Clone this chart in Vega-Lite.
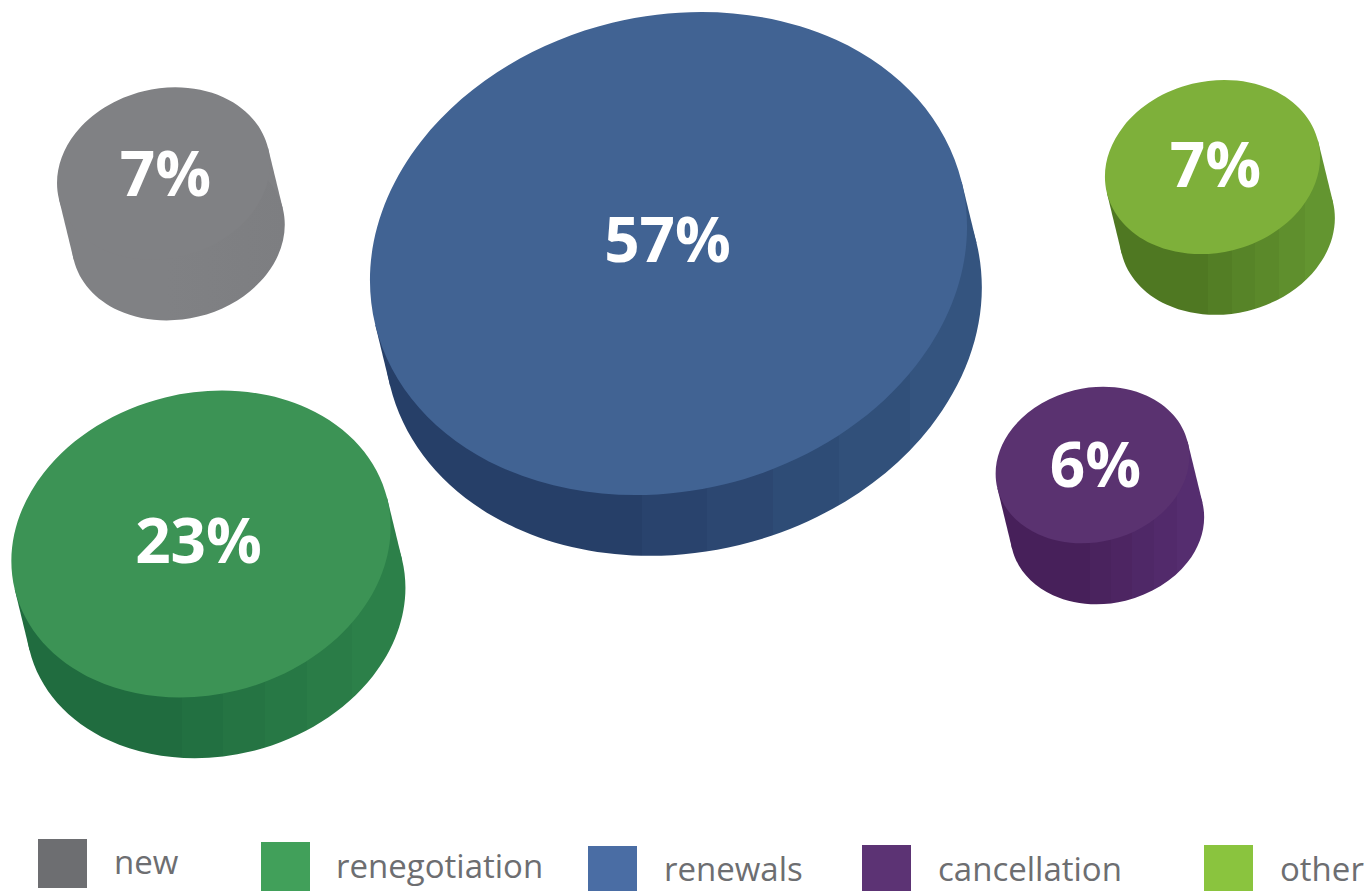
{"$schema":"https://vega.github.io/schema/vega-lite/v6.json","width":1364,"height":891,"autosize":{"type":"none"},"padding":0,"background":"white","view":{"stroke":null},"config":{"axis":{"disable":true}},
"data":{"values":[
{"category":"new","share":0.0725,"cx":163.5,"cy":173.5,"swatchX":62.5,"swatchY":863.5,"labelX":114,"labelY":874},
{"category":"renegotiation","share":0.23,"cx":201,"cy":544,"swatchX":285.5,"swatchY":866.5,"labelX":336,"labelY":878},
{"category":"renewals","share":0.57,"cx":668.5,"cy":253.5,"swatchX":612.5,"swatchY":870.5,"labelX":664,"labelY":881},
{"category":"cancellation","share":0.06,"cx":1092.5,"cy":465,"swatchX":886.5,"swatchY":869.5,"labelX":938,"labelY":881},
{"category":"other","share":0.074,"cx":1212.5,"cy":167,"swatchX":1228.5,"swatchY":869.5,"labelX":1280,"labelY":881}
]},
"encoding":{
"x":{"field":"cx","type":"quantitative","scale":{"domain":[0,1364],"nice":false,"zero":false},"axis":null},
"y":{"field":"cy","type":"quantitative","scale":{"domain":[891,0],"nice":false,"zero":false},"axis":null},
"size":{"field":"share","type":"quantitative","scale":{"type":"linear","domain":[0,0.57],"range":[0,364272]},"legend":null}
},
"layer":[
{"transform":[{"filter":"datum.category==='new'"}],"mark":{"type":"point","filled":true,"opacity":1,"stroke":null,"clip":false,"shape":"M.9716 -.2368 L1.1086 .3262 L-.8346 .7998 L-.9716 .2368 Z","fill":"#808184"}},
{"transform":[{"filter":"datum.category==='new'"}],"mark":{"type":"point","filled":true,"opacity":1,"stroke":null,"clip":false,"xOffset":14.8,"yOffset":60.8,"shape":"M.9716 -.2368 C1.021 -.0341 .9661 .1854 .8188 .3732 C.6716 .561 .4441 .7018 .1864 .7646 C-.0713 .8274 -.338 .8071 -.5552 .7081 C-.7724 .6091 -.9221 .4396 -.9716 .2368 C-1.021 .0341 -.9661 -.1854 -.8188 -.3732 C-.6716 -.561 -.4441 -.7018 -.1864 -.7646 C.0713 -.8274 .338 -.8071 .5552 -.7081 C.7724 -.6091 .9221 -.4396 .9716 -.2368 Z","fill":{"gradient":"linear","x1":0,"y1":0,"x2":1,"y2":0,"stops":[{"offset":0,"color":"#808184"},{"offset":0.45,"color":"#808184"},{"offset":1,"color":"#7d7e81"}]}}},
{"transform":[{"filter":"datum.category==='renegotiation'"}],"mark":{"type":"point","filled":true,"opacity":1,"stroke":null,"clip":false,"shape":"M.9716 -.2368 L1.0488 .0804 L-.8944 .554 L-.9716 .2368 Z","fill":{"gradient":"linear","x1":0,"y1":0,"x2":1,"y2":0,"stops":[{"offset":0,"color":"#206c3f"},{"offset":0.5,"color":"#206c3f"},{"offset":0.5,"color":"#2c8049"},{"offset":1,"color":"#2c8049"}]}}},
{"transform":[{"filter":"datum.category==='renegotiation'"}],"mark":{"type":"point","filled":true,"opacity":1,"stroke":null,"clip":false,"xOffset":14.8,"yOffset":60.8,"shape":"M.9716 -.2368 C1.021 -.0341 .9661 .1854 .8188 .3732 C.6716 .561 .4441 .7018 .1864 .7646 C-.0713 .8274 -.338 .8071 -.5552 .7081 C-.7724 .6091 -.9221 .4396 -.9716 .2368 C-1.021 .0341 -.9661 -.1854 -.8188 -.3732 C-.6716 -.561 -.4441 -.7018 -.1864 -.7646 C.0713 -.8274 .338 -.8071 .5552 -.7081 C.7724 -.6091 .9221 -.4396 .9716 -.2368 Z","fill":{"gradient":"linear","x1":0,"y1":0,"x2":1,"y2":0,"stops":[{"offset":0,"color":"#206c3f"},{"offset":0.41,"color":"#206c3f"},{"offset":0.41,"color":"#227041"},{"offset":0.52,"color":"#227041"},{"offset":0.52,"color":"#257443"},{"offset":0.63,"color":"#257443"},{"offset":0.63,"color":"#277845"},{"offset":0.74,"color":"#277845"},{"offset":0.74,"color":"#2a7c47"},{"offset":0.86,"color":"#2a7c47"},{"offset":0.86,"color":"#2c8049"},{"offset":1,"color":"#2c8049"}]}}},
{"transform":[{"filter":"datum.category==='renewals'"}],"mark":{"type":"point","filled":true,"opacity":1,"stroke":null,"clip":false,"shape":"M.9716 -.2368 L1.0206 -.0353 L-.9226 .4383 L-.9716 .2368 Z","fill":{"gradient":"linear","x1":0,"y1":0,"x2":1,"y2":0,"stops":[{"offset":0,"color":"#263f68"},{"offset":0.5,"color":"#263f68"},{"offset":0.5,"color":"#34547f"},{"offset":1,"color":"#34547f"}]}}},
{"transform":[{"filter":"datum.category==='renewals'"}],"mark":{"type":"point","filled":true,"opacity":1,"stroke":null,"clip":false,"xOffset":14.8,"yOffset":60.8,"shape":"M.9716 -.2368 C1.021 -.0341 .9661 .1854 .8188 .3732 C.6716 .561 .4441 .7018 .1864 .7646 C-.0713 .8274 -.338 .8071 -.5552 .7081 C-.7724 .6091 -.9221 .4396 -.9716 .2368 C-1.021 .0341 -.9661 -.1854 -.8188 -.3732 C-.6716 -.561 -.4441 -.7018 -.1864 -.7646 C.0713 -.8274 .338 -.8071 .5552 -.7081 C.7724 -.6091 .9221 -.4396 .9716 -.2368 Z","fill":{"gradient":"linear","x1":0,"y1":0,"x2":1,"y2":0,"stops":[{"offset":0,"color":"#263f68"},{"offset":0.43,"color":"#263f68"},{"offset":0.43,"color":"#29436d"},{"offset":0.54,"color":"#29436d"},{"offset":0.54,"color":"#2c4771"},{"offset":0.65,"color":"#2c4771"},{"offset":0.65,"color":"#2e4c76"},{"offset":0.76,"color":"#2e4c76"},{"offset":0.76,"color":"#31507a"},{"offset":0.88,"color":"#31507a"},{"offset":0.88,"color":"#34547f"},{"offset":1,"color":"#34547f"}]}}},
{"transform":[{"filter":"datum.category==='cancellation'"}],"mark":{"type":"point","filled":true,"opacity":1,"stroke":null,"clip":false,"shape":"M.9716 -.2368 L1.1226 .3842 L-.8206 .8578 L-.9716 .2368 Z","fill":{"gradient":"linear","x1":0,"y1":0,"x2":1,"y2":0,"stops":[{"offset":0,"color":"#47205a"},{"offset":0.5,"color":"#47205a"},{"offset":0.5,"color":"#552d6f"},{"offset":1,"color":"#552d6f"}]}}},
{"transform":[{"filter":"datum.category==='cancellation'"}],"mark":{"type":"point","filled":true,"opacity":1,"stroke":null,"clip":false,"xOffset":14.8,"yOffset":60.8,"shape":"M.9716 -.2368 C1.021 -.0341 .9661 .1854 .8188 .3732 C.6716 .561 .4441 .7018 .1864 .7646 C-.0713 .8274 -.338 .8071 -.5552 .7081 C-.7724 .6091 -.9221 .4396 -.9716 .2368 C-1.021 .0341 -.9661 -.1854 -.8188 -.3732 C-.6716 -.561 -.4441 -.7018 -.1864 -.7646 C.0713 -.8274 .338 -.8071 .5552 -.7081 C.7724 -.6091 .9221 -.4396 .9716 -.2368 Z","fill":{"gradient":"linear","x1":0,"y1":0,"x2":1,"y2":0,"stops":[{"offset":0,"color":"#47205a"},{"offset":0.41,"color":"#47205a"},{"offset":0.41,"color":"#4a235e"},{"offset":0.52,"color":"#4a235e"},{"offset":0.52,"color":"#4d2562"},{"offset":0.63,"color":"#4d2562"},{"offset":0.63,"color":"#4f2867"},{"offset":0.74,"color":"#4f2867"},{"offset":0.74,"color":"#522a6b"},{"offset":0.86,"color":"#522a6b"},{"offset":0.86,"color":"#552d6f"},{"offset":1,"color":"#552d6f"}]}}},
{"transform":[{"filter":"datum.category==='other'"}],"mark":{"type":"point","filled":true,"opacity":1,"stroke":null,"clip":false,"shape":"M.9716 -.2368 L1.1076 .3222 L-.8356 .7958 L-.9716 .2368 Z","fill":{"gradient":"linear","x1":0,"y1":0,"x2":1,"y2":0,"stops":[{"offset":0,"color":"#4f7822"},{"offset":0.5,"color":"#4f7822"},{"offset":0.5,"color":"#639530"},{"offset":1,"color":"#639530"}]}}},
{"transform":[{"filter":"datum.category==='other'"}],"mark":{"type":"point","filled":true,"opacity":1,"stroke":null,"clip":false,"xOffset":14.8,"yOffset":60.8,"shape":"M.9716 -.2368 C1.021 -.0341 .9661 .1854 .8188 .3732 C.6716 .561 .4441 .7018 .1864 .7646 C-.0713 .8274 -.338 .8071 -.5552 .7081 C-.7724 .6091 -.9221 .4396 -.9716 .2368 C-1.021 .0341 -.9661 -.1854 -.8188 -.3732 C-.6716 -.561 -.4441 -.7018 -.1864 -.7646 C.0713 -.8274 .338 -.8071 .5552 -.7081 C.7724 -.6091 .9221 -.4396 .9716 -.2368 Z","fill":{"gradient":"linear","x1":0,"y1":0,"x2":1,"y2":0,"stops":[{"offset":0,"color":"#4f7822"},{"offset":0.41,"color":"#4f7822"},{"offset":0.41,"color":"#537e25"},{"offset":0.52,"color":"#537e25"},{"offset":0.52,"color":"#578428"},{"offset":0.63,"color":"#578428"},{"offset":0.63,"color":"#5b892a"},{"offset":0.74,"color":"#5b892a"},{"offset":0.74,"color":"#5f8f2d"},{"offset":0.86,"color":"#5f8f2d"},{"offset":0.86,"color":"#639530"},{"offset":1,"color":"#639530"}]}}},
{"mark":{"type":"point","filled":true,"opacity":1,"stroke":null,"clip":false,"shape":"M.9716 -.2368 C1.021 -.0341 .9661 .1854 .8188 .3732 C.6716 .561 .4441 .7018 .1864 .7646 C-.0713 .8274 -.338 .8071 -.5552 .7081 C-.7724 .6091 -.9221 .4396 -.9716 .2368 C-1.021 .0341 -.9661 -.1854 -.8188 -.3732 C-.6716 -.561 -.4441 -.7018 -.1864 -.7646 C.0713 -.8274 .338 -.8071 .5552 -.7081 C.7724 -.6091 .9221 -.4396 .9716 -.2368 Z"},
 "encoding":{"color":{"field":"category","type":"nominal","legend":null,"scale":{"domain":["new","renegotiation","renewals","cancellation","other"],"range":["#808184","#3c9355","#416393","#5a3270","#7eb03a"]}}}},
{"transform":[{"filter":"datum.category==='new'"}],"mark":{"type":"text","font":"Open Sans","fontWeight":"bold","fontSize":62,"color":"white","baseline":"alphabetic","align":"center","dx":2,"dy":22.5},"encoding":{"size":{"value":62},"text":{"field":"share","type":"quantitative","format":".0%"}}},
{"transform":[{"filter":"datum.category==='renegotiation'"}],"mark":{"type":"text","font":"Open Sans","fontWeight":"bold","fontSize":62,"color":"white","baseline":"alphabetic","align":"center","dx":-2.5,"dy":19},"encoding":{"size":{"value":62},"text":{"field":"share","type":"quantitative","format":".0%"}}},
{"transform":[{"filter":"datum.category==='renewals'"}],"mark":{"type":"text","font":"Open Sans","fontWeight":"bold","fontSize":62,"color":"white","baseline":"alphabetic","align":"center","dx":-1,"dy":8.5},"encoding":{"size":{"value":62},"text":{"field":"share","type":"quantitative","format":".0%"}}},
{"transform":[{"filter":"datum.category==='cancellation'"}],"mark":{"type":"text","font":"Open Sans","fontWeight":"bold","fontSize":62,"color":"white","baseline":"alphabetic","align":"center","dx":3,"dy":22},"encoding":{"size":{"value":62},"text":{"field":"share","type":"quantitative","format":".0%"}}},
{"transform":[{"filter":"datum.category==='other'"}],"mark":{"type":"text","font":"Open Sans","fontWeight":"bold","fontSize":62,"color":"white","baseline":"alphabetic","align":"center","dx":3,"dy":20},"encoding":{"size":{"value":62},"text":{"field":"share","type":"quantitative","format":".0%"}}},
{"mark":{"type":"square","filled":true,"opacity":1,"stroke":null,"clip":false},
 "encoding":{"x":{"field":"swatchX","type":"quantitative"},"y":{"field":"swatchY","type":"quantitative"},"size":{"value":2401},
 "fill":{"field":"category","type":"nominal","legend":null,"scale":{"domain":["new","renegotiation","renewals","cancellation","other"],"range":["#6d6e71","#41a05a","#4a6da4","#5c3374","#8ac43e"]}}}},
{"mark":{"type":"text","font":"Open Sans","fontSize":33,"color":"#6d6e71","align":"left","baseline":"alphabetic"},
 "encoding":{"x":{"field":"labelX","type":"quantitative"},"y":{"field":"labelY","type":"quantitative"},"size":{"value":33},"text":{"field":"category","type":"nominal"}}}
]}
